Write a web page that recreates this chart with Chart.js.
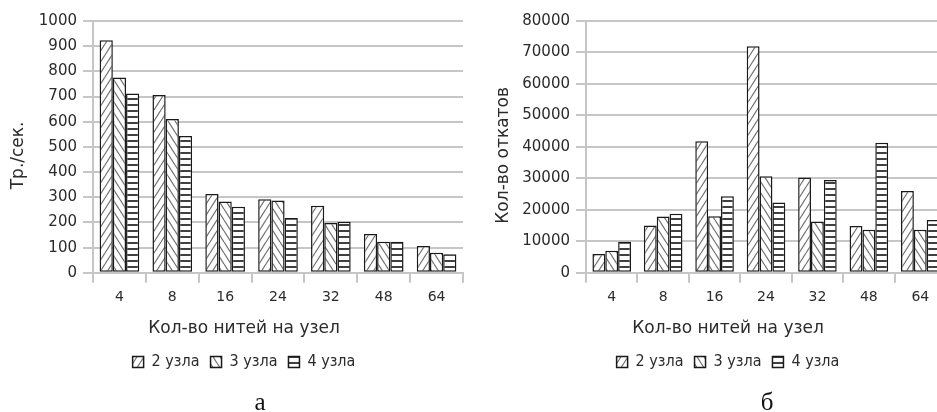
<!DOCTYPE html>
<html>
<head>
<meta charset="utf-8">
<script src="https://cdn.jsdelivr.net/npm/chart.js@4.4.1/dist/chart.umd.min.js"></script>
<style>
  html, body { margin: 0; padding: 0; background: #fff; overflow: hidden; }
  #page { position: relative; width: 937px; height: 412px; overflow: hidden; background: #fff; }
  #panelA, #panelB { position: absolute; top: 0; }
  #panelA { left: 0; }
  #panelB { left: 470px; }
  .cap { position: absolute; top: 389px; width: 40px; text-align: center;
         font: 25px/25px 'Liberation Serif', 'DejaVu Serif', serif; color: #111; }
</style>
</head>
<body>
<div id="page">
  <canvas id="panelA" width="488" height="412"></canvas>
  <canvas id="panelB" width="516" height="412"></canvas>
  <div class="cap" style="left:240px">а</div>
  <div class="cap" style="left:747px">б</div>
</div>
<script>
// data
const threads = ['4', '8', '16', '24', '32', '48', '64'];
const seriesNames = ['2 узла', '3 узла', '4 узла'];

// panel a: transactions per second
const tps2 = [924, 706, 313, 292, 266, 154, 106];
const tps3 = [776, 611, 283, 287, 198, 123, 80];
const tps4 = [712, 543, 262, 218, 203, 123, 74];
const tpsMax = 1000, tpsStep = 100;

// panel b: rollbacks
const rb2 = [6000, 15000, 41800, 72000, 30300, 14900, 26000];
const rb3 = [7000, 17900, 18000, 30700, 16300, 13700, 13700];
const rb4 = [9900, 18800, 24300, 22300, 29500, 41300, 16800];
const rbMax = 80000, rbStep = 10000;

const xTitle = 'Кол-во нитей на узел';

const TXT = '#2b2b2b';
const GRID = '#c6c6c6';
const SANS = "'DejaVu Sans', sans-serif";
const NARROW = "'DejaVu Sans Condensed', 'Liberation Sans Narrow', 'DejaVu Sans', sans-serif";
// trailing gap nudges the rotated title a little lower, as in the original
const GAP = '\u2002\u2002';

// hatch fills like the office-style bars
function hatch(ctx, kind) {
  const c = document.createElement('canvas');
  const w = kind === 'h' ? 6 : 7;
  const h = kind === 'h' ? 6 : 11;
  c.width = w; c.height = h;
  const g = c.getContext('2d');
  g.fillStyle = '#fff';
  g.fillRect(0, 0, w, h);
  if (kind === 'h') {
    g.strokeStyle = '#1e1e1e';
    g.lineWidth = 1.7;
    g.beginPath(); g.moveTo(0, 3); g.lineTo(w, 3); g.stroke();
  } else {
    g.strokeStyle = '#6e6e6e';
    g.lineWidth = 1.2;
    for (const dx of [-w, 0, w]) {
      g.beginPath();
      if (kind === 'up') { g.moveTo(dx, h); g.lineTo(dx + w, 0); }
      else { g.moveTo(dx, 0); g.lineTo(dx + w, h); }
      g.stroke();
    }
  }
  return ctx.createPattern(c, 'repeat');
}

function makeChart(id, values, yMax, yStep, yTitle, yWidth, yTitlePad, rightPad) {
  const canvas = document.getElementById(id);
  const ctx = canvas.getContext('2d');
  const fills = [hatch(ctx, 'up'), hatch(ctx, 'down'), hatch(ctx, 'h')];

  return new Chart(ctx, {
    type: 'bar',
    data: {
      labels: threads,
      datasets: values.map((v, i) => ({
        label: seriesNames[i],
        data: v,
        backgroundColor: fills[i],
        borderColor: '#1a1a1a',
        borderWidth: 1.5,
        borderSkipped: false,
        barPercentage: 1,
        categoryPercentage: 0.75
      }))
    },
    options: {
      responsive: false,
      animation: false,
      events: [],
      layout: { padding: { top: 21, bottom: 32, left: 0, right: 0 } },
      scales: {
        x: {
          grid: { drawOnChartArea: false, drawTicks: true, tickLength: 10, color: GRID, lineWidth: 2 },
          border: { display: true, color: GRID, width: 2 },
          ticks: { color: TXT, font: { family: SANS, size: 14 }, padding: 6 }
        },
        y: {
          min: 0,
          max: yMax,
          ticks: { stepSize: yStep, color: TXT, font: { family: SANS, size: 15 }, padding: 6,
                   callback: v => String(v) },
          grid: { color: GRID, lineWidth: 2, tickLength: 10 },
          border: { display: true, color: GRID, width: 2 },
          title: { display: true, text: yTitle + GAP, color: TXT, font: { family: SANS, size: 17 },
                   padding: { top: yTitlePad, bottom: 0 } },
          afterFit(s) { s.width = yWidth; }
        },
        // empty spacer so the bottom texts centre where the original has them
        spacer: {
          type: 'linear', position: 'right', display: true,
          grid: { display: false }, ticks: { display: false }, border: { display: false },
          afterFit(s) { s.width = rightPad; }
        }
      },
      plugins: {
        tooltip: { enabled: false },
        title: {
          display: true, position: 'bottom', weight: 500,
          text: xTitle, color: TXT,
          font: { family: SANS, size: 17, weight: 'normal' },
          padding: { top: 7, bottom: 4 }
        },
        legend: {
          position: 'bottom',
          labels: { boxWidth: 11, boxHeight: 11, padding: 11, color: TXT,
                    font: { family: NARROW, size: 16 } }
        }
      }
    }
  });
}

makeChart('panelA', [tps2, tps3, tps4], tpsMax, tpsStep, 'Тр./сек.', 93, 8, 25);
makeChart('panelB', [rb2, rb3, rb4], rbMax, rbStep, 'Кол-во откатов', 116, 23, 40);
</script>
</body>
</html>
